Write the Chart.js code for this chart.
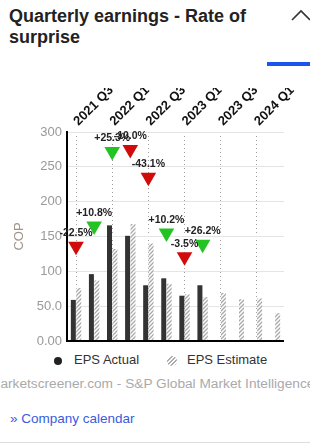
<!DOCTYPE html>
<html>
<head>
<meta charset="utf-8">
<script src="https://cdn.jsdelivr.net/npm/chart.js@4.4.1/dist/chart.umd.min.js"></script>
<style>
  html, body { margin: 0; padding: 0; background: #fff; }
  body { width: 310px; height: 444px; overflow: hidden; position: relative; font-family: "Liberation Sans", Arial, sans-serif; }
  .title { position: absolute; left: 9px; top: 6px; width: 270px; font-size: 18px; line-height: 21px; font-weight: bold; color: #222; }
  .chev { position: absolute; left: 290px; top: 8px; }
  .tabline { position: absolute; left: 267px; top: 62px; width: 43px; height: 4px; background: #1a56ee; }
  .chart-box { position: absolute; left: 0; top: 88px; width: 310px; height: 262px; }
  .legend { position: absolute; top: 352px; left: 0; width: 310px; height: 16px; font-size: 13px; color: #333; }
  .legend span { position: absolute; top: 0; line-height: 16px; }
  .dot { width: 8px; height: 8px; border-radius: 50%; background: #222; }
  .hatch { width: 10px; height: 10px; border-radius: 50%; background: repeating-linear-gradient(135deg, #aaa 0 1.5px, #fff 1.5px 3px); }
  .source { position: absolute; top: 376px; left: -11px; white-space: nowrap; font-size: 13.7px; color: #aaa; }
  .calendar { position: absolute; top: 411px; left: 10px; font-size: 13.5px; color: #3a5be0; }
  .bottomline { position: absolute; left: 0; top: 442px; width: 310px; height: 1px; background: #ddd; }
</style>
</head>
<body>
<div class="title">Quarterly earnings - Rate of surprise</div>
<svg class="chev" width="20" height="14"><polyline points="2,12 11,3 20,12" fill="none" stroke="#333" stroke-width="1.6"/></svg>
<div class="tabline"></div>
<div class="chart-box"><canvas id="eps-chart"></canvas></div>
<div class="legend">
  <span class="dot" style="left:54px; top:5px;"></span>
  <span style="left:74px;">EPS Actual</span>
  <span class="hatch" style="left:167px; top:4px;"></span>
  <span style="left:187px;">EPS Estimate</span>
</div>
<div class="source">marketscreener.com - S&amp;P Global Market Intelligence</div>
<div class="calendar">» Company calendar</div>
<div class="bottomline"></div>

<script>
const quarters = ['2021 Q3', '2021 Q4', '2022 Q1', '2022 Q2', '2022 Q3', '2022 Q4',
                  '2023 Q1', '2023 Q2', '2023 Q3', '2023 Q4', '2024 Q1', '2024 Q2'];
const epsActual = [59, 96, 166, 151, 80, 90, 65, 80, null, null, null, null];
const epsEstimate = [76, 87, 132, 168, 140, 82, 67, 63, 69, 60, 61, 40];
// where the surprise markers sit, and their labels
const surpriseY = [136, 165, 272, 275, 235, 155, 121, 139, null, null, null, null];
const surpriseText = ['-22.5%', '+10.8%', '+25.3%', '-10.0%', '-43.1%', '+10.2%', '-3.5%', '+26.2%'];
const yTickLabels = { 0: '0.00', 50: '50.0', 100: '100', 150: '150', 200: '200', 250: '250', 300: '300' };

const FONT = '"Liberation Sans", Arial, sans-serif';
Chart.defaults.font.family = FONT;

function hatchPattern() {
    const c = document.createElement('canvas');
    c.width = 4; c.height = 4;
    const g = c.getContext('2d');
    g.fillStyle = '#fff';
    g.fillRect(0, 0, 4, 4);
    g.strokeStyle = '#a8a8a8';
    g.lineWidth = 1.3;
    g.beginPath();
    g.moveTo(0, 4); g.lineTo(4, 0);
    g.moveTo(-1, 1); g.lineTo(1, -1);
    g.moveTo(3, 5); g.lineTo(5, 3);
    g.stroke();
    return g.createPattern(c, 'repeat');
}

const surpriseLabels = {
    id: 'surpriseLabels',
    afterDatasetsDraw(chart) {
        const meta = chart.getDatasetMeta(0);
        const ctx = chart.ctx;
        ctx.save();
        ctx.font = 'bold 10.5px ' + FONT;
        ctx.fillStyle = '#222';
        ctx.textAlign = 'center';
        ctx.textBaseline = 'middle';
        meta.data.forEach((pt, i) => {
            if (surpriseText[i]) ctx.fillText(surpriseText[i], pt.x, pt.y - 13);
        });
        ctx.restore();
    }
};

const canvas = document.getElementById('eps-chart');
const pattern = hatchPattern();

new Chart(canvas, {
    type: 'bar',
    data: {
        labels: quarters,
        datasets: [{
            type: 'line',
            label: 'Surprise',
            data: surpriseY,
            showLine: false,
            order: -1,
            pointStyle: 'triangle',
            rotation: 180,
            radius: 9,
            borderWidth: 0,
            backgroundColor: surpriseText.map(t => t.startsWith('-') ? '#d10a0a' : '#22c322'),
            borderColor: 'rgba(0,0,0,0)'
        }, {
            label: 'EPS Actual',
            data: epsActual,
            backgroundColor: '#333333',
            categoryPercentage: 0.6,
            barPercentage: 0.92
        }, {
            label: 'EPS Estimate',
            data: epsEstimate,
            backgroundColor: pattern,
            categoryPercentage: 0.6,
            barPercentage: 0.92
        }]
    },
    options: {
        responsive: true,
        maintainAspectRatio: false,
        animation: false,
        layout: { padding: { left: 0, right: 26, top: 0, bottom: 8 } },
        plugins: { legend: { display: false }, tooltip: { enabled: false } },
        scales: {
            x: {
                position: 'top',
                grid: {
                    offset: false,
                    drawTicks: false,
                    color: c => c.index % 2 === 0 ? '#a0a0a0' : 'rgba(0,0,0,0)'
                },
                border: { display: false, dash: [1, 3] },
                ticks: {
                    autoSkip: false,
                    maxRotation: 45,
                    minRotation: 45,
                    padding: 3,
                    labelOffset: 11,
                    color: '#111',
                    font: { size: 13, weight: 'bold' },
                    callback: (v, i) => i % 2 === 0 ? quarters[i] : ''
                },
                afterFit: s => { s.height = 44; s.paddingLeft = 0; s.paddingRight = 0; }
            },
            y: {
                min: 0,
                max: 300,
                grid: {
                    drawTicks: false,
                    color: c => c.tick && c.tick.value === 0 ? '#000' : '#e4e4e4',
                    lineWidth: c => c.tick && c.tick.value === 0 ? 2 : 1
                },
                border: { display: true, color: '#000', width: 2 },
                ticks: {
                    stepSize: 50,
                    padding: 5,
                    color: '#999',
                    font: { size: 13 },
                    callback: v => yTickLabels[v]
                },
                title: {
                    display: true,
                    text: 'COP',
                    color: '#a09287',
                    font: { size: 13 },
                    padding: { top: 12, bottom: 0 }
                },
                afterFit: s => { s.width = 67; s.paddingTop = 0; s.paddingBottom = 0; }
            }
        }
    },
    plugins: [surpriseLabels]
});
</script>
</body>
</html>
